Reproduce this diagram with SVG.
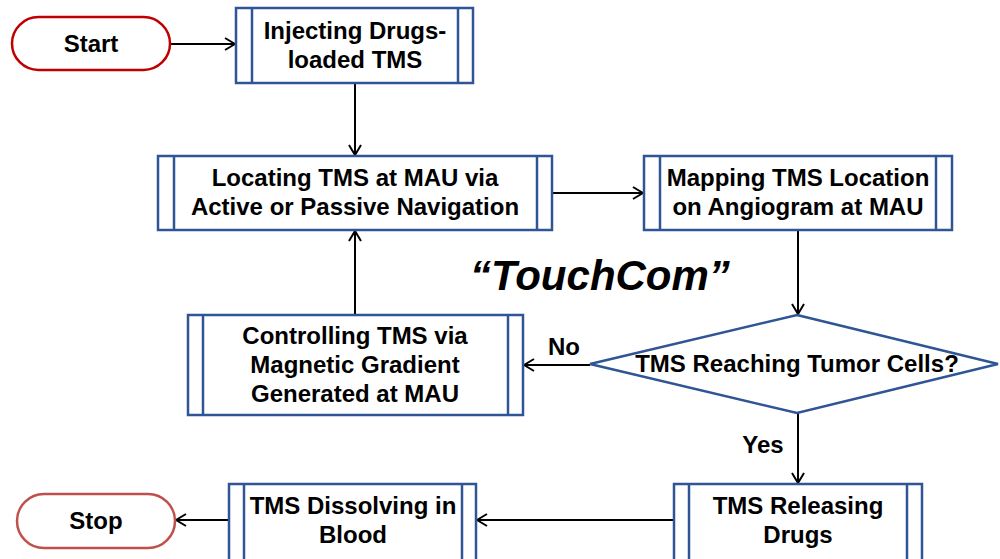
<svg xmlns="http://www.w3.org/2000/svg" width="1000" height="559" viewBox="0 0 1000 559">
  <defs>
    <marker id="arrow" viewBox="0 0 12 14" refX="11" refY="7" markerWidth="12" markerHeight="14" markerUnits="userSpaceOnUse" orient="auto">
      <path d="M1,1 L11,7 L1,13" fill="none" stroke="#000" stroke-width="2"/>
    </marker>
  </defs>
  <style>
    text { font-family: "Liberation Sans", Arial, sans-serif; font-weight: bold; font-size: 24px; fill: #000; text-anchor: middle; }
    .proc { fill: #fff; stroke: #2f5597; stroke-width: 2.5; }
    .bar { stroke: #2f5597; stroke-width: 2.5; }
    .term1 { fill: #fff; stroke: #c00000; stroke-width: 2.5; }
    .term2 { fill: #fff; stroke: #c0504d; stroke-width: 2.5; }
    .conn { fill: none; stroke: #000; stroke-width: 2; marker-end: url(#arrow); }
    .title { font-size: 42px; font-style: italic; }
  </style>
  <rect width="1000" height="559" fill="#fff"/>

  <g id="connectors">
    <line class="conn" x1="170" y1="44" x2="235" y2="44"/>
    <line class="conn" x1="355" y1="83" x2="355" y2="155"/>
    <line class="conn" x1="552" y1="193" x2="643" y2="193"/>
    <line class="conn" x1="798" y1="230" x2="798" y2="314"/>
    <line class="conn" x1="590" y1="365" x2="524" y2="365"/>
    <line class="conn" x1="355" y1="315" x2="355" y2="231"/>
    <line class="conn" x1="798" y1="413" x2="798" y2="483"/>
    <line class="conn" x1="674" y1="520" x2="477" y2="520"/>
    <line class="conn" x1="229" y1="520" x2="176" y2="520"/>
    <text x="564" y="355">No</text>
    <text x="763" y="453">Yes</text>
  </g>

  <g id="start">
    <rect class="term1" x="12" y="17" width="158" height="53" rx="26.5"/>
    <text x="91" y="52">Start</text>
  </g>

  <g id="inject">
    <rect class="proc" x="236" y="8" width="237" height="75"/>
    <line class="bar" x1="252" y1="8" x2="252" y2="83"/>
    <line class="bar" x1="458" y1="8" x2="458" y2="83"/>
    <text x="355" y="39">Injecting Drugs-</text>
    <text x="355" y="68">loaded TMS</text>
  </g>

  <g id="locate">
    <rect class="proc" x="158" y="156" width="394" height="74"/>
    <line class="bar" x1="174" y1="156" x2="174" y2="230"/>
    <line class="bar" x1="537" y1="156" x2="537" y2="230"/>
    <text x="355" y="186">Locating TMS at MAU via</text>
    <text x="355" y="215">Active or Passive Navigation</text>
  </g>

  <g id="mapping">
    <rect class="proc" x="644" y="156" width="308" height="74"/>
    <line class="bar" x1="660" y1="156" x2="660" y2="230"/>
    <line class="bar" x1="936" y1="156" x2="936" y2="230"/>
    <text x="798" y="186">Mapping TMS Location</text>
    <text x="798" y="215">on Angiogram at MAU</text>
  </g>

  <g id="label">
    <text class="title" x="600" y="290">“TouchCom”</text>
  </g>

  <g id="controlling">
    <rect class="proc" x="188" y="315" width="335" height="100"/>
    <line class="bar" x1="203" y1="315" x2="203" y2="415"/>
    <line class="bar" x1="508" y1="315" x2="508" y2="415"/>
    <text x="355" y="344">Controlling TMS via</text>
    <text x="355" y="373">Magnetic Gradient</text>
    <text x="355" y="402">Generated at MAU</text>
  </g>

  <g id="decision">
    <polygon class="proc" points="797,315 998,364 797,413 590,364"/>
    <text x="797" y="372">TMS Reaching Tumor Cells?</text>
  </g>

  <g id="releasing">
    <rect class="proc" x="674" y="484" width="248" height="80"/>
    <line class="bar" x1="689" y1="484" x2="689" y2="564"/>
    <line class="bar" x1="907" y1="484" x2="907" y2="564"/>
    <text x="798" y="514">TMS Releasing</text>
    <text x="798" y="543">Drugs</text>
  </g>

  <g id="dissolving">
    <rect class="proc" x="229" y="484" width="247" height="80"/>
    <line class="bar" x1="244" y1="484" x2="244" y2="564"/>
    <line class="bar" x1="462" y1="484" x2="462" y2="564"/>
    <text x="353" y="514">TMS Dissolving in</text>
    <text x="353" y="543">Blood</text>
  </g>

  <g id="stop">
    <rect class="term2" x="17" y="494" width="158" height="54" rx="27"/>
    <text x="96" y="529">Stop</text>
  </g>
</svg>
